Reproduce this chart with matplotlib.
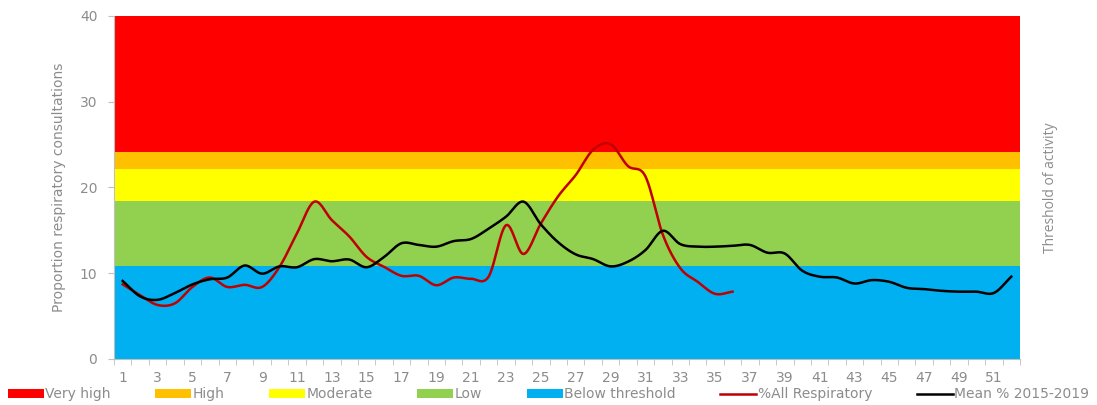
import numpy as np
import matplotlib.pyplot as plt
from matplotlib.patches import Patch
from matplotlib.lines import Line2D

# --- Data ---
weeks = list(range(1, 53))

band_names = ['Very high', 'High', 'Moderate', 'Low', 'Below threshold']
band_colors = ['#FF0000', '#FFC000', '#FFFF00', '#92D050', '#00B0F0']
# band edges (lower, upper)
band_edges = [(24.1, 40), (22.2, 24.1), (18.4, 22.2), (10.85, 18.4), (0, 10.85)]

all_resp = [8.7, 7.45, 6.3, 6.5, 8.4, 9.5, 8.4, 8.65, 8.4, 10.75,
            14.65, 18.35, 16.2, 14.3, 11.9, 10.75, 9.7, 9.7, 8.6, 9.5,
            9.35, 9.6, 15.6, 12.25, 15.8, 19.0, 21.45, 24.4, 25.05, 22.5,
            21.3, 14.5, 10.6, 9.0, 7.6, 7.85]

mean_1519 = [9.1, 7.3, 6.9, 7.7, 8.7, 9.3, 9.5, 10.9, 9.95, 10.8,
             10.7, 11.65, 11.4, 11.6, 10.7, 11.9, 13.5, 13.3, 13.1, 13.75,
             14.0, 15.2, 16.6, 18.35, 15.7, 13.6, 12.2, 11.65, 10.8, 11.35,
             12.7, 14.95, 13.4, 13.1, 13.1, 13.2, 13.3, 12.4, 12.3, 10.3,
             9.6, 9.5, 8.8, 9.2, 9.0, 8.3, 8.15, 7.95, 7.85, 7.85,
             7.7, 9.6]


# --- Smooth line like the spreadsheet "smoothed line" option ---
def catmull_rom(x, y, n=20):
    x = np.asarray(x, float)
    y = np.asarray(y, float)
    px = np.concatenate([[2 * x[0] - x[1]], x, [2 * x[-1] - x[-2]]])
    py = np.concatenate([[2 * y[0] - y[1]], y, [2 * y[-1] - y[-2]]])
    t = np.linspace(0, 1, n, endpoint=False)
    xs, ys = [], []
    for i in range(1, len(px) - 2):
        for p, out in ((px, xs), (py, ys)):
            p0, p1, p2, p3 = p[i - 1], p[i], p[i + 1], p[i + 2]
            out.extend(0.5 * (2 * p1 + (-p0 + p2) * t
                              + (2 * p0 - 5 * p1 + 4 * p2 - p3) * t ** 2
                              + (-p0 + 3 * p1 - 3 * p2 + p3) * t ** 3))
    xs.append(x[-1])
    ys.append(y[-1])
    return np.array(xs), np.array(ys)


grey = '#8c8c8c'
plt.rcParams['font.family'] = ['DejaVu Sans']

fig = plt.figure(figsize=(10.97, 4.05), dpi=100)
ax = fig.add_axes([114 / 1097, 46 / 405, 906 / 1097, 343 / 405])

for (lo, hi), c in zip(band_edges, band_colors):
    ax.axhspan(lo, hi, color=c, zorder=0, lw=0)

x1, y1 = catmull_rom(weeks[:len(all_resp)], all_resp)
x2, y2 = catmull_rom(weeks, mean_1519)
ax.plot(x1, y1, color='#C00000', lw=1.8, zorder=3)
ax.plot(x2, y2, color='black', lw=1.8, zorder=4)

ax.set_xlim(0.5, 52.5)
ax.set_ylim(0, 40)
ax.set_yticks([0, 10, 20, 30, 40])
ax.set_xticks(weeks[::2])
ax.set_xticks(np.arange(0.5, 53, 1), minor=True)
ax.tick_params(axis='x', which='major', length=0, pad=9, colors=grey, labelsize=10)
ax.tick_params(axis='x', which='minor', length=4, color='#bfbfbf')
ax.tick_params(axis='y', length=4, color='#bfbfbf', colors=grey, labelsize=10, pad=8)
for t in ax.get_yticklabels():
    t.set_color(grey)

for s in ['top', 'right']:
    ax.spines[s].set_visible(False)
for s in ['left', 'bottom']:
    ax.spines[s].set_color('#bfbfbf')

ax.set_ylabel('Proportion respiratory consultations', color=grey, fontsize=10,
              labelpad=10)
fig.text(1050 / 1097, (405 - 188) / 405, 'Threshold of activity', rotation=90,
         color=grey, fontsize=10, ha='center', va='center', family='Open Sans')

handles = [Patch(facecolor=c, edgecolor='none') for c in band_colors]
handles += [Line2D([], [], color='#C00000', lw=1.8),
            Line2D([], [], color='black', lw=1.8)]
labels = band_names + ['%All Respiratory', 'Mean % 2015-2019']
leg = fig.legend(handles, labels, loc='center', bbox_to_anchor=(0.5, 0.026),
                 ncol=7, frameon=False, fontsize=10, handlelength=2.6,
                 handleheight=0.55, handletextpad=0.1, columnspacing=3.2,
                 borderaxespad=0, borderpad=0)
for t in leg.get_texts():
    t.set_color(grey)

fig.savefig('out.png', dpi=100)
